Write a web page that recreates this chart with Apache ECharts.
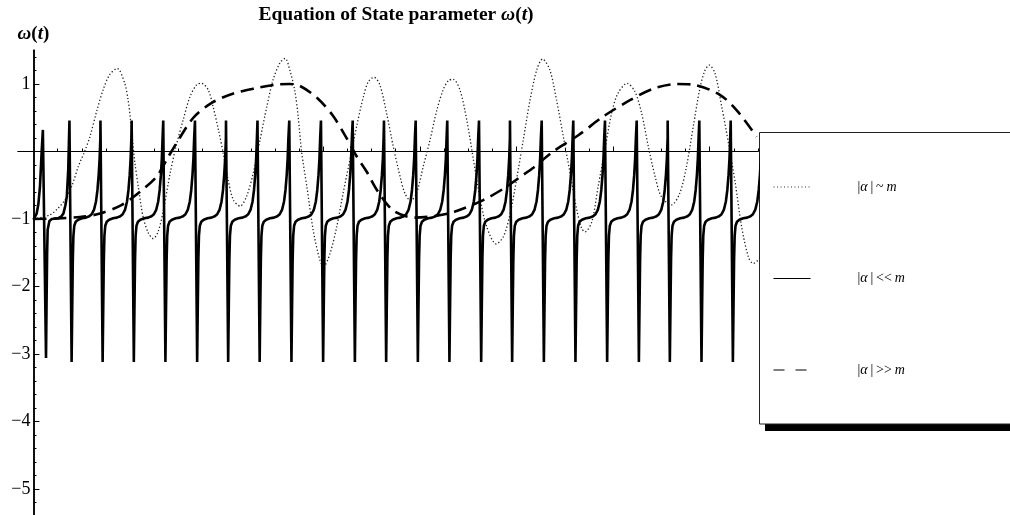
<!DOCTYPE html>
<html>
<head>
<meta charset="utf-8">
<title>Equation of State parameter</title>
<script src="https://cdn.jsdelivr.net/npm/echarts@6/dist/echarts.min.js"></script>
<style>
  html, body { margin: 0; padding: 0; background: #fff; }
  #chart { width: 1010px; height: 515px; }
</style>
</head>
<body>
<div id="chart"></div>
<script>
// |alpha| ~ m  (dotted curve), points [t, w]
var dottedData = [
  [0, -1.0], [0.34, -0.94], [0.51, -0.84], [0.65, -0.72], [0.79, -0.52], [0.93, -0.22],
  [1.07, 0.02], [1.17, 0.22], [1.31, 0.6], [1.45, 0.93], [1.58, 1.14], [1.735, 1.23],
  [1.89, 1.01], [1.96, 0.76], [2.01, 0.47], [2.05, 0.17], [2.1, -0.17], [2.17, -0.52],
  [2.27, -0.97], [2.38, -1.21], [2.48, -1.29], [2.58, -1.19], [2.69, -0.87], [2.83, -0.32],
  [2.95, 0.07], [3.1, 0.47], [3.24, 0.81], [3.38, 0.99], [3.48, 1.01], [3.62, 0.91],
  [3.72, 0.66], [3.83, 0.32], [3.93, -0.03], [4.03, -0.42], [4.14, -0.72], [4.28, -0.81],
  [4.41, -0.67], [4.55, -0.32], [4.69, 0.17], [4.83, 0.66], [4.96, 1.06], [5.1, 1.31],
  [5.21, 1.38], [5.31, 1.2], [5.41, 0.9], [5.48, 0.52], [5.55, 0.0], [5.66, -0.52],
  [5.79, -1.16], [5.93, -1.61], [6.01, -1.7], [6.14, -1.51], [6.28, -1.11], [6.41, -0.62],
  [6.55, -0.13], [6.69, 0.37], [6.83, 0.81], [6.93, 1.03], [7.05, 1.1], [7.17, 0.99],
  [7.31, 0.57], [7.45, 0.07], [7.59, -0.37], [7.69, -0.62], [7.81, -0.73], [7.93, -0.62],
  [8.07, -0.22], [8.21, 0.17], [8.35, 0.61], [8.48, 0.91], [8.59, 1.05], [8.69, 1.07],
  [8.83, 0.91], [8.97, 0.47], [9.11, -0.13], [9.24, -0.67], [9.38, -1.11], [9.58, -1.37],
  [9.73, -1.26], [9.87, -0.92], [10.0, -0.42], [10.14, 0.17], [10.28, 0.76], [10.42, 1.21],
  [10.54, 1.37], [10.69, 1.21], [10.83, 0.76], [10.97, 0.22], [11.11, -0.32], [11.25, -0.87],
  [11.35, -1.14], [11.42, -1.19], [11.56, -1.04], [11.69, -0.52], [11.83, 0.02], [11.97, 0.57],
  [12.1, 0.86], [12.29, 1.01], [12.45, 0.89], [12.59, 0.57], [12.73, 0.07], [12.87, -0.37],
  [13.0, -0.67], [13.21, -0.79], [13.38, -0.62], [13.52, -0.22], [13.66, 0.37], [13.79, 0.91],
  [13.89, 1.18], [13.99, 1.28], [14.11, 1.16], [14.25, 0.66], [14.39, 0.12], [14.53, -0.47],
  [14.66, -1.11], [14.8, -1.56], [14.9, -1.66], [15.0, -1.61]
];

// |alpha| >> m  (dashed curve)
var dashedData = [
  [0, -1.0], [0.5, -0.99], [0.96, -0.97], [1.38, -0.92], [1.83, -0.79], [2.2, -0.6],
  [2.55, -0.37], [2.79, -0.08], [3.0, 0.17], [3.31, 0.5], [3.69, 0.72], [4.14, 0.86],
  [4.62, 0.94], [5.03, 0.99], [5.3, 1.0], [5.52, 0.97], [5.88, 0.79], [6.19, 0.54],
  [6.45, 0.24], [6.69, -0.07], [6.9, -0.3], [7.12, -0.58], [7.46, -0.88], [7.9, -0.98],
  [8.35, -0.95], [8.73, -0.89], [9.31, -0.72], [9.8, -0.52], [10.07, -0.38], [10.35, -0.24],
  [10.76, 0.0], [11.28, 0.24], [11.8, 0.52], [12.35, 0.76], [12.83, 0.93], [13.32, 1.0],
  [13.66, 0.99], [14.21, 0.84], [14.56, 0.61], [14.97, 0.22]
];

// |alpha| << m  (solid curve): start of the curve up to the 2nd spike
var solidHead = [
  [0, -1.01], [0.066, -0.92], [0.1, -0.79], [0.135, -0.52], [0.17, 0.0], [0.195, 0.32],
  [0.26, -3.06], [0.272, -2.2], [0.283, -1.5], [0.294, -1.16], [0.33, -1.03], [0.38, -1.0],
  [0.51, -0.99], [0.58, -0.96], [0.62, -0.92], [0.66, -0.8], [0.69, -0.67], [0.72, -0.27]
];
// t of each following spike top
var solidSpikeT = [
  0.745, 1.387, 2.033, 2.687, 3.344, 3.986, 4.638, 5.296, 5.952, 6.609, 7.257,
  7.913, 8.567, 9.224, 9.865, 10.522, 11.176, 11.832, 12.489, 13.13, 13.785, 14.435
];
// shape of one cycle: offset from the spike top, and w
var cycleOffset = [0, 0.045, 0.058, 0.07, 0.082, 0.1, 0.13, 0.18, 0.26, 0.34, 0.41, 0.46, 0.51, 0.55, 0.58, 0.605, 0.625, 0.64];
var cycleValue  = [0.46, -3.12, -2.3, -1.6, -1.25, -1.1, -1.04, -1.01, -0.99, -0.98, -0.96, -0.93, -0.86, -0.74, -0.57, -0.35, -0.1, 0.2];

var xTickLabels = [2, 4, 6, 8, 10, 12, 14];
var yTickLabels = [-5, -4, -3, -2, -1, 1];

var seriesNames = ['|α|~m', '|α|<<m', '|α|>>m'];
var legendRich = {
  '|α|~m': '{p|}|{i|α}\u2009|\u2009~\u2009{i|m}',
  '|α|<<m': '{p|}|{i|α}\u2009|\u2009<<\u2009{i|m}',
  '|α|>>m': '{p|}|{i|α}\u2009|\u2009>>\u2009{i|m}'
};

var solidData = solidHead.slice();
solidSpikeT.forEach(function (t0) {
  for (var i = 0; i < cycleOffset.length; i++) {
    solidData.push([+(t0 + cycleOffset[i]).toFixed(4), cycleValue[i]]);
  }
});

var xMinor = [];
for (var i = 1; i <= 30; i++) xMinor.push(i * 0.5);
var yMinor = [];
for (var j = -26; j <= 7; j++) yMinor.push(+(j * 0.2).toFixed(1));
var yMajor = [-5, -4, -3, -2, -1, 0, 1];

var serif = "'Liberation Serif', 'Times New Roman', 'DejaVu Serif', serif";
var minus = function (v) { return v < 0 ? '\u2212' + Math.abs(v) : String(v); };

var chart = echarts.init(document.getElementById('chart'));
var option = {
  backgroundColor: '#fff',
  animation: false,
  title: {
    text: 'Equation of State parameter {i|ω}({i|t})',
    left: 391,
    top: 0,
    textAlign: 'center',
    textStyle: {
      fontFamily: serif, fontSize: 19.5, fontWeight: 'bold', color: '#000',
      rich: { i: { fontFamily: serif, fontSize: 19.5, fontWeight: 'bold', fontStyle: 'italic', color: '#000' } }
    }
  },
  grid: { left: 18, right: 252, top: 50.25, bottom: 0, containLabel: false, outerBoundsMode: 'none' },
  // legend frame with its hard black drop shadow
  graphic: [
    { type: 'rect', z: 3, silent: true, shape: { x: 765, y: 140, width: 300, height: 291 }, style: { fill: '#000' } },
    { type: 'rect', z: 3, silent: true, shape: { x: 759.5, y: 132.5, width: 300, height: 291.5 }, style: { fill: '#fff', stroke: '#222', lineWidth: 1 } }
  ],
  legend: {
    orient: 'vertical',
    left: 759,
    top: 132,
    padding: [48, 100, 47, 14],
    itemGap: 77.5,
    itemWidth: 37,
    itemHeight: 14,
    selectedMode: false,
    itemStyle: { color: 'rgba(0,0,0,0)', borderWidth: 0, opacity: 0 },
    formatter: function (name) { return legendRich[name]; },
    textStyle: {
      fontFamily: serif, fontSize: 14, color: '#000', lineHeight: 14,
      rich: {
        p: { width: 42 },
        i: { fontFamily: serif, fontSize: 14, fontStyle: 'italic', color: '#000' }
      }
    },
    data: [
      { name: seriesNames[0], lineStyle: { width: 1, type: [1, 2.5], color: '#333' } },
      { name: seriesNames[1], lineStyle: { width: 1, type: 'solid', color: '#000' } },
      { name: seriesNames[2], lineStyle: { width: 1, type: [11, 11], color: '#000' } }
    ]
  },
  xAxis: [
    {
      type: 'value', min: -0.32, max: 15, position: 'bottom',
      axisLine: { onZero: true, lineStyle: { color: '#000', width: 1 } },
      axisTick: { inside: true, length: 5, customValues: xTickLabels, lineStyle: { color: '#000' } },
      axisLabel: { customValues: xTickLabels, margin: 4, fontFamily: serif, fontSize: 18, color: '#000' },
      splitLine: { show: false }
    },
    {
      type: 'value', min: -0.32, max: 15, position: 'bottom',
      axisLine: { onZero: true, lineStyle: { color: '#000', width: 1 } },
      axisTick: { inside: true, length: 3, customValues: xMinor, lineStyle: { color: '#000' } },
      axisLabel: { show: false },
      splitLine: { show: false }
    }
  ],
  yAxis: [
    {
      type: 'value', min: -5.385, max: 1.5, position: 'left', offset: -15.46,
      name: '{i|ω}({i|t})',
      nameLocation: 'end',
      nameGap: 7,
      nameTextStyle: {
        fontFamily: serif, fontSize: 19, fontWeight: 'bold', color: '#000',
        rich: { i: { fontFamily: serif, fontSize: 19, fontWeight: 'bold', fontStyle: 'italic', color: '#000' } }
      },
      axisLine: { onZero: false, lineStyle: { color: '#000', width: 1.5 } },
      axisTick: { inside: true, length: 6, customValues: yMajor, lineStyle: { color: '#000' } },
      axisLabel: { customValues: yTickLabels, formatter: minus, margin: 3, fontFamily: serif, fontSize: 18, color: '#000' },
      splitLine: { show: false }
    },
    {
      type: 'value', min: -5.385, max: 1.5, position: 'left', offset: -15.46,
      axisLine: { onZero: false, lineStyle: { color: '#000', width: 1.5 } },
      axisTick: { inside: true, length: 3, customValues: yMinor, lineStyle: { color: '#000' } },
      axisLabel: { show: false },
      splitLine: { show: false }
    }
  ],
  series: [
    {
      name: seriesNames[0], type: 'line', data: dottedData, symbol: 'none', smooth: 0.3,
      lineStyle: { color: '#222', width: 1.3, type: [1.3, 2.2] }, itemStyle: { color: '#222' }
    },
    {
      name: seriesNames[1], type: 'line', data: solidData, symbol: 'none',
      lineStyle: { color: '#000', width: 2.6 }, itemStyle: { color: '#000' }
    },
    {
      name: seriesNames[2], type: 'line', data: dashedData, symbol: 'none', smooth: 0.3,
      lineStyle: { color: '#000', width: 2.6, type: [13, 7] }, itemStyle: { color: '#000' }
    }
  ]
};
chart.setOption(option);
</script>
</body>
</html>
